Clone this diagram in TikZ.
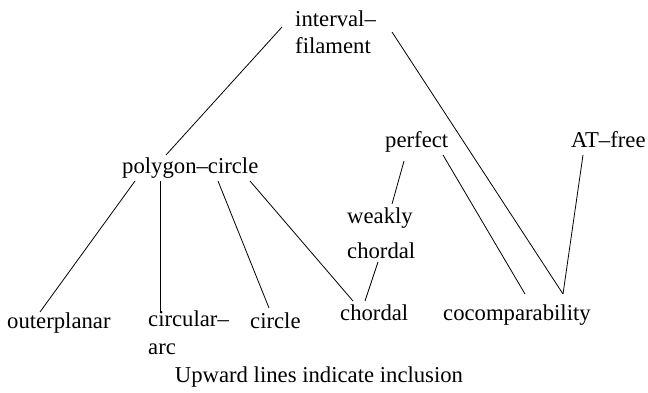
\documentclass[tikz,border=0pt]{standalone}
\usepackage{fontspec}
\setmainfont{Liberation Serif}
\begin{document}
\begin{tikzpicture}[x=1pt,y=-1pt,
  lbl/.style={inner sep=0pt,anchor=base west,align=left,font=\fontsize{22.7}{27.2}\selectfont},
  edge/.style={line width=0.8pt}]
\useasboundingbox (0,0) rectangle (648,393);
\node[lbl] (if) at (295,54) {interval–\\filament};
\node[lbl] (pc) at (122,174) {polygon–circle};
\node[lbl] (pf) at (385,148) {perfect};
\node[lbl] (at) at (571,148) {AT–free};
\node[lbl] (wc) at (347,258) {weakly\\[7pt]chordal};
\node[lbl] (op) at (7,328) {outerplanar};
\node[lbl] (ca) at (148,354) {circular–\\arc};
\node[lbl] (ci) at (250,328) {circle};
\node[lbl] (ch) at (340,320) {chordal};
\node[lbl] (co) at (443,320) {cocomparability};
\node[lbl,anchor=base] (cap) at (319,382) {Upward lines indicate inclusion};
\draw[edge] ([shift={(-13,-27)}]if.base west) -- ([shift={(44,-19)}]pc.base west);
\draw[edge] ([shift={(97,-22)}]if.base west) -- ([shift={(120,-26)}]co.base west);
\draw[edge] ([shift={(13,7)}]pc.base west) -- ([shift={(33,-16)}]op.base west);
\draw[edge] ([shift={(38,7)}]pc.base west) -- ([shift={(12,-41)}]ca.base west);
\draw[edge] ([shift={(96,7)}]pc.base west) -- ([shift={(19,-20)}]ci.base west);
\draw[edge] ([shift={(128,7)}]pc.base west) -- ([shift={(13,-19)}]ch.base west);
\draw[edge] ([shift={(19,13)}]pf.base west) -- ([shift={(45,-54)}]wc.base west);
\draw[edge] ([shift={(31,4)}]wc.base west) -- ([shift={(25,-19)}]ch.base west);
\draw[edge] ([shift={(58,7)}]pf.base west) -- ([shift={(82,-26)}]co.base west);
\draw[edge] ([shift={(12,7)}]at.base west) -- ([shift={(120,-26)}]co.base west);
\end{tikzpicture}
\end{document}
